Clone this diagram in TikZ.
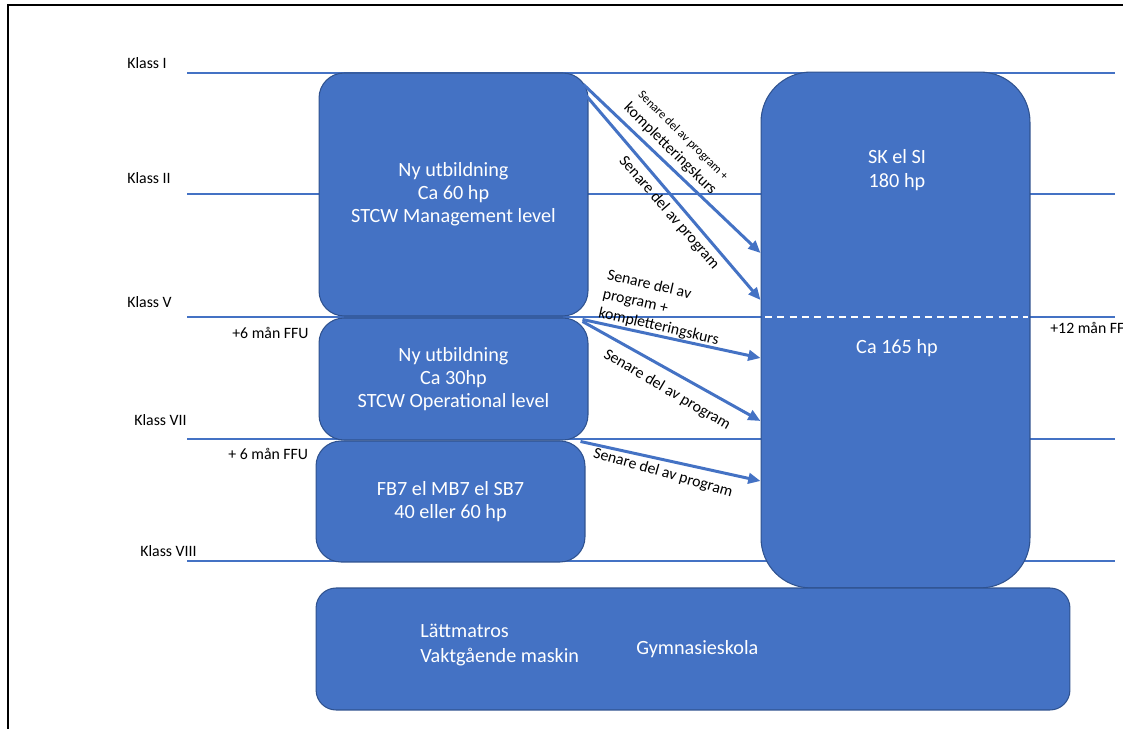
\documentclass[tikz,border=0pt]{standalone}
\usepackage{fontspec}
\setmainfont{Carlito}
\usetikzlibrary{arrows.meta, calc}
\definecolor{BoxBlue}{HTML}{4472C4}
\definecolor{BoxEdge}{HTML}{2F528F}
\tikzstyle{block} = [rectangle, rounded corners=0.5cm, draw=BoxEdge, fill=BoxBlue, line width=0.6pt, text=white, font=\fontsize{11.5}{13}\selectfont, align=center]
\tikzstyle{boxtext} = [text=white, font=\fontsize{11.5}{14}\selectfont, align=center, inner sep=0pt]
\tikzstyle{klassline} = [draw=BoxBlue, line width=0.9pt]
\tikzstyle{sidetext} = [anchor=west, font=\fontsize{9}{10}\selectfont, inner sep=0pt]
\tikzstyle{arrow} = [draw=BoxBlue, line width=1.7pt, -{Triangle[length=7pt,width=6pt]}]
\tikzstyle{arrowtext} = [font=\fontsize{9}{11}\selectfont, inner sep=1pt]

\begin{document}
\begin{tikzpicture}[x=0.02cm, y=-0.02cm]

\useasboundingbox (0,0) rectangle (1123,729);

% frame
\draw[line width=1.2pt] (8,729) -- (8,5) -- (1123,5);

% klass levels
\foreach \yy in {73,194,317,439,561}
  \draw[klassline] (187,\yy) -- (1115,\yy);

\node (k1) [sidetext] at (127,63) {Klass I};
\node (k2) [sidetext] at (127,178) {Klass II};
\node (k5) [sidetext] at (127,302) {Klass V};
\node (k7) [sidetext] at (134,420) {Klass VII};
\node (k8) [sidetext] at (140,551) {Klass VIII};

\node (ffu1) [sidetext] at (232,333) {+6 mån FFU};
\node (ffu2) [sidetext] at (228,454) {+ 6 mån FFU};
\node (ffu3) [sidetext] at (1050,328) {+12 mån FFU};

% boxes
\node (ny60) [block, minimum width=5.38cm, minimum height=4.86cm] at (453.5,194.5)
  {Ny utbildning\\Ca 60 hp\\STCW Management level};
\node (ny30) [block, minimum width=5.38cm, minimum height=2.44cm] at (453.5,379)
  {Ny utbildning\\Ca 30hp\\STCW Operational level};
\node (fb7) [block, minimum width=5.38cm, minimum height=2.42cm] at (450.5,501.5)
  {FB7 el MB7 el SB7\\40 eller 60 hp};
\node (sk) [block, rounded corners=1cm, minimum width=5.38cm, minimum height=10.32cm] at (895.5,330) {};
\node (gym) [block, rounded corners=0.4cm, minimum width=15.08cm, minimum height=2.44cm] at (693,649) {};

\draw[white, line width=0.8pt, dash pattern=on 4pt off 3pt] (765,317) -- (1028,317);

\node (sktext) [boxtext] at (897,170) {SK el SI\\180 hp};
\node (ca165) [boxtext] at (897,348) {Ca 165 hp};
\node (latt) [boxtext, anchor=west, align=left] at (420,645) {Lättmatros\\Vaktgående maskin};
\node (gymtext) [boxtext, anchor=west] at (636,649) {Gymnasieskola};

% arrows
\draw[arrow] ($(ny60.north east)+(-5,12)$) -- ($(sk.west)+(0,-77)$);
\draw[arrow] ($(ny60.north east)+(-5,20)$) -- ($(sk.west)+(0,-30)$);
\draw[arrow] ($(ny30.north east)+(-6,2)$) -- ($(sk.west)+(0,28)$);
\draw[arrow] ($(ny30.north east)+(-6,4)$) -- ($(sk.west)+(0,91)$);
\draw[arrow] ($(fb7.north east)+(-5,1)$) -- ($(sk.west)+(0,151)$);

\node (t1) [arrowtext, rotate=-44.5, align=center] at (676,143)
  {{\fontsize{7}{8}\selectfont Senare del av program +}\\kompletteringskurs};
\node (t2) [arrowtext, rotate=-49] at (669,213) {Senare del av program};
\node (t3) [arrowtext, rotate=-13, align=left] at (663,308)
  {Senare del av\\program +\\kompletteringskurs};
\node (t4) [arrowtext, rotate=-30.5] at (667,390) {Senare del av program};
\node (t5) [arrowtext, rotate=-16] at (663,473) {Senare del av program};

\end{tikzpicture}
\end{document}
